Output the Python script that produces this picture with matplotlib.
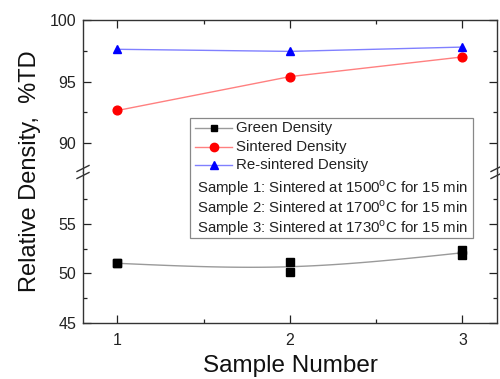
import numpy as np
import matplotlib
matplotlib.use("Agg")
import matplotlib.pyplot as plt
from matplotlib.patches import Rectangle

plt.rcParams['font.family'] = ['Liberation Sans', 'DejaVu Sans']
plt.rcParams['mathtext.fontset'] = 'custom'
plt.rcParams['mathtext.rm'] = 'Liberation Sans'

# ---- data ----
samples = [1, 2, 3]
green_a = [51.05, 51.19, 52.37]
green_b = [51.01, 50.18, 51.82]
sintered = [92.65, 95.4, 97.0]
resintered = [97.62, 97.45, 97.8]
sample_notes = [
    r"Sample 1: Sintered at 1500$^{\rm o}$C for 15 min",
    r"Sample 2: Sintered at 1700$^{\rm o}$C for 15 min",
    r"Sample 3: Sintered at 1730$^{\rm o}$C for 15 min",
]
legend_labels = ["Green Density", "Sintered Density", "Re-sintered Density"]

W, H = 500, 379
fig = plt.figure(figsize=(W / 100, H / 100), dpi=100)

left, right = 83 / W, 497 / W
top = 1 - 20 / H
brk = 1 - 172 / H
bottom = 1 - 323 / H

ax_up = fig.add_axes([left, brk, right - left, top - brk])
ax_lo = fig.add_axes([left, bottom, right - left, brk - bottom])

xlim = (0.8, 3.2)
for ax in (ax_up, ax_lo):
    ax.set_xlim(*xlim)
    ax.tick_params(direction='in', which='both', top=True, right=True,
                   labelsize=11.5, colors='#222222', width=0.9)
    ax.tick_params(which='major', length=6, pad=5)
    ax.tick_params(which='minor', length=3)
    ax.set_xticks([1, 2, 3])
    ax.set_xticks([1.5, 2.5], minor=True)
    for s in ax.spines.values():
        s.set_linewidth(1.0)
        s.set_color('#333333')

ax_up.set_ylim(87.65, 100)
ax_up.set_yticks([90, 95, 100])
ax_up.set_yticks([92.5, 97.5], minor=True)
ax_up.spines['bottom'].set_visible(False)
ax_up.tick_params(which='both', bottom=False, labelbottom=False)

ax_lo.set_ylim(45, 60.25)
ax_lo.set_yticks([45, 50, 55])
ax_lo.set_yticks([47.5, 52.5, 57.5], minor=True)
ax_lo.spines['top'].set_visible(False)
ax_lo.tick_params(which='both', top=False)
ax_lo.tick_params(axis='x', pad=7)

# green density: smooth connecting line through sample means (natural cubic spline)
gx = np.array(samples, dtype=float)
gy = (np.array(green_a) + np.array(green_b)) / 2
h = 1.0
M1 = 6 * ((gy[2] - gy[1]) / h - (gy[1] - gy[0]) / h) / (4 * h)
M = [0.0, M1, 0.0]
xs_all, ys_all = [], []
for i in range(2):
    t = np.linspace(gx[i], gx[i + 1], 60)
    a = (gx[i + 1] - t) / h
    b = (t - gx[i]) / h
    y = (a * gy[i] + b * gy[i + 1]
         + ((a ** 3 - a) * M[i] + (b ** 3 - b) * M[i + 1]) * h * h / 6)
    xs_all.append(t)
    ys_all.append(y)
ax_lo.plot(np.concatenate(xs_all), np.concatenate(ys_all), color='#9a9a9a', lw=1.0)
ax_lo.plot(samples, green_a, 's', color='black', ms=5.5, ls='none')
ax_lo.plot(samples, green_b, 's', color='black', ms=5.5, ls='none')

ax_up.plot(samples, sintered, '-', color='#ff8080', lw=1.0)
ax_up.plot(samples, sintered, 'o', color='#ff0000', ms=6.3, ls='none')
ax_up.plot(samples, resintered, '-', color='#8080ff', lw=1.0)
ax_up.plot(samples, resintered, '^', color='#0000ff', ms=6.3, ls='none')

# overlay in pixel coordinates for break marks and legend box
ov = fig.add_axes([0, 0, 1, 1])
ov.set_xlim(0, W)
ov.set_ylim(H, 0)
ov.axis('off')
ov.patch.set_alpha(0)

for xs in (83, 497):
    for dy in (-3.5, 3.5):
        yc = 172 + dy
        ov.plot([xs - 6, xs + 6], [yc + 3, yc - 3], color='#333333', lw=1.0)

# legend box
ov.add_patch(Rectangle((190, 118), 283, 120, facecolor='white',
                       edgecolor='#888888', lw=0.9, zorder=3))
rows = [128, 147, 165]
styles = [('#9a9a9a', 's', 'black', 5),
          ('#ff8080', 'o', '#ff0000', 6),
          ('#8080ff', '^', '#0000ff', 6)]
for y, (lc, mk, mc, ms), lab in zip(rows, styles, legend_labels):
    ov.plot([195, 232], [y, y], color=lc, lw=1.0, zorder=4)
    ov.plot([213.5], [y], marker=mk, color=mc, ms=ms, zorder=5)
    ov.text(236, y, lab, fontsize=10.8, va='center', ha='left',
            color='#222222', zorder=5)
for y, note in zip([188, 208, 228], sample_notes):
    ov.text(197, y, note, fontsize=10.8, va='center', ha='left',
            color='#222222', zorder=5)

fig.text(30 / W, 1 - 171 / H, "Relative Density,  %TD", rotation=90,
         fontsize=17, va='center', ha='center', color='#111111')
fig.text(290 / W, 1 - 366 / H, "Sample Number", fontsize=17.5,
         va='center', ha='center', color='#111111')

fig.savefig("out.png", dpi=100)
